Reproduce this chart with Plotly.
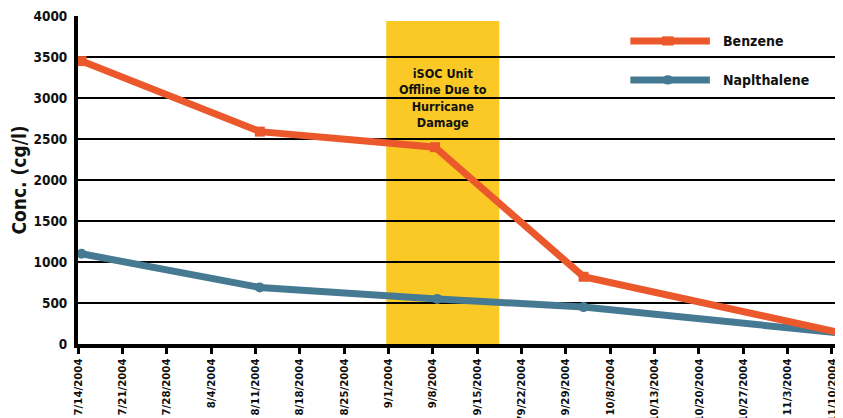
import plotly.graph_objects as go

# Category tick labels (equally spaced on the axis)
tick_labels = ["7/14/2004", "7/21/2004", "7/28/2004", "8/4/2004", "8/11/2004",
               "8/18/2004", "8/25/2004", "9/1/2004", "9/8/2004", "9/15/2004",
               "79/22/2004", "9/29/2004", "10/8/2004", "10/13/2004", "10/20/2004",
               "10/27/2004", "11/3/2004", "11/10/2004"]
tick_pos = list(range(len(tick_labels)))

# Sample positions (in tick-index units) and concentrations (cg/l)
benzene_x = [0.08, 4.1, 8.05, 11.4, 17.25]
benzene_y = [3450, 2590, 2400, 820, 130]
naph_x = [0.08, 4.1, 8.1, 11.4, 17.25]
naph_y = [1100, 690, 550, 450, 130]

# Hurricane offline window (tick-index units) and its top value
offline_x = [6.95, 9.5]
offline_top = 3940

y_ticks = [0, 500, 1000, 1500, 2000, 2500, 3000, 3500, 4000]

FONT = "DejaVu Sans Condensed, Liberation Sans Narrow, sans-serif"
ORANGE = "#EA582C"
BLUE = "#467A93"
YELLOW = "#FAC926"

fig = go.Figure()

fig.add_shape(type="rect", xref="x", yref="y",
              x0=offline_x[0], x1=offline_x[1], y0=0, y1=offline_top,
              fillcolor=YELLOW, line=dict(width=0), layer="below")

fig.add_trace(go.Scatter(x=naph_x, y=naph_y, mode="lines+markers", name="Naplthalene",
                         line=dict(color=BLUE, width=7),
                         marker=dict(symbol="circle", size=10, color=BLUE),
                         showlegend=False))
fig.add_trace(go.Scatter(x=benzene_x, y=benzene_y, mode="lines+markers", name="Benzene",
                         line=dict(color=ORANGE, width=7),
                         marker=dict(symbol="square", size=10, color=ORANGE),
                         showlegend=False))

fig.add_annotation(x=(offline_x[0] + offline_x[1]) / 2, y=3420, xref="x", yref="y",
                   text="<b>iSOC Unit<br>Offline Due to<br>Hurricane<br>Damage</b>",
                   showarrow=False, yanchor="top",
                   font=dict(family=FONT, size=12.5, color="#111"))

# Manual legend
legend_items = [("Benzene", ORANGE, "square", 0.924), ("Naplthalene", BLUE, "circle", 0.805)]
for name, col, sym, py in legend_items:
    fig.add_shape(type="line", xref="paper", yref="paper", x0=0.722, x1=0.826, y0=py, y1=py,
                  line=dict(color=col, width=7))
    mx, dx = 0.771, 0.0075
    dy = 0.014
    fig.add_shape(type="rect" if sym == "square" else "circle", xref="paper", yref="paper",
                  x0=mx - dx, x1=mx + dx, y0=py - dy, y1=py + dy,
                  fillcolor=col, line=dict(width=0))
    fig.add_annotation(x=0.841, y=py, xref="paper", yref="paper", text=f"<b>{name}</b>",
                       showarrow=False, xanchor="left", yanchor="middle",
                       font=dict(family=FONT, size=14, color="#111"))

fig.update_layout(
    width=835, height=410,
    margin=dict(l=70, r=0, t=8, b=74, autoexpand=False),
    paper_bgcolor="white", plot_bgcolor="white",
    font=dict(family=FONT, color="#111"),
    showlegend=False,
)
fig.update_xaxes(range=[0, 17.25], tickmode="array", tickvals=tick_pos,
                 ticktext=[f"<b>{t}</b>" for t in tick_labels], tickangle=-90,
                 tickfont=dict(family=FONT, size=11.3, color="#111"),
                 showgrid=False, zeroline=False, showline=True, linecolor="black", linewidth=4,
                 ticks="outside", ticklen=6, tickwidth=3, tickcolor="black",
                 automargin=False, ticklabeloverflow="allow")
fig.update_yaxes(range=[0, 4000], tickmode="array", tickvals=y_ticks,
                 ticktext=[f"<b>{v}</b>" for v in y_ticks],
                 tickfont=dict(family=FONT, size=13.5, color="#111"),
                 showgrid=True, gridcolor="black", gridwidth=2, zeroline=False,
                 showline=True, linecolor="black", linewidth=4, ticks="", ticklabelstandoff=4,
                 automargin=False, ticklabeloverflow="allow",
                 title=dict(text="<b>Conc. (cg/l)</b>", font=dict(family=FONT, size=19, color="#111"),
                            standoff=14))

fig.write_html("out.html")
